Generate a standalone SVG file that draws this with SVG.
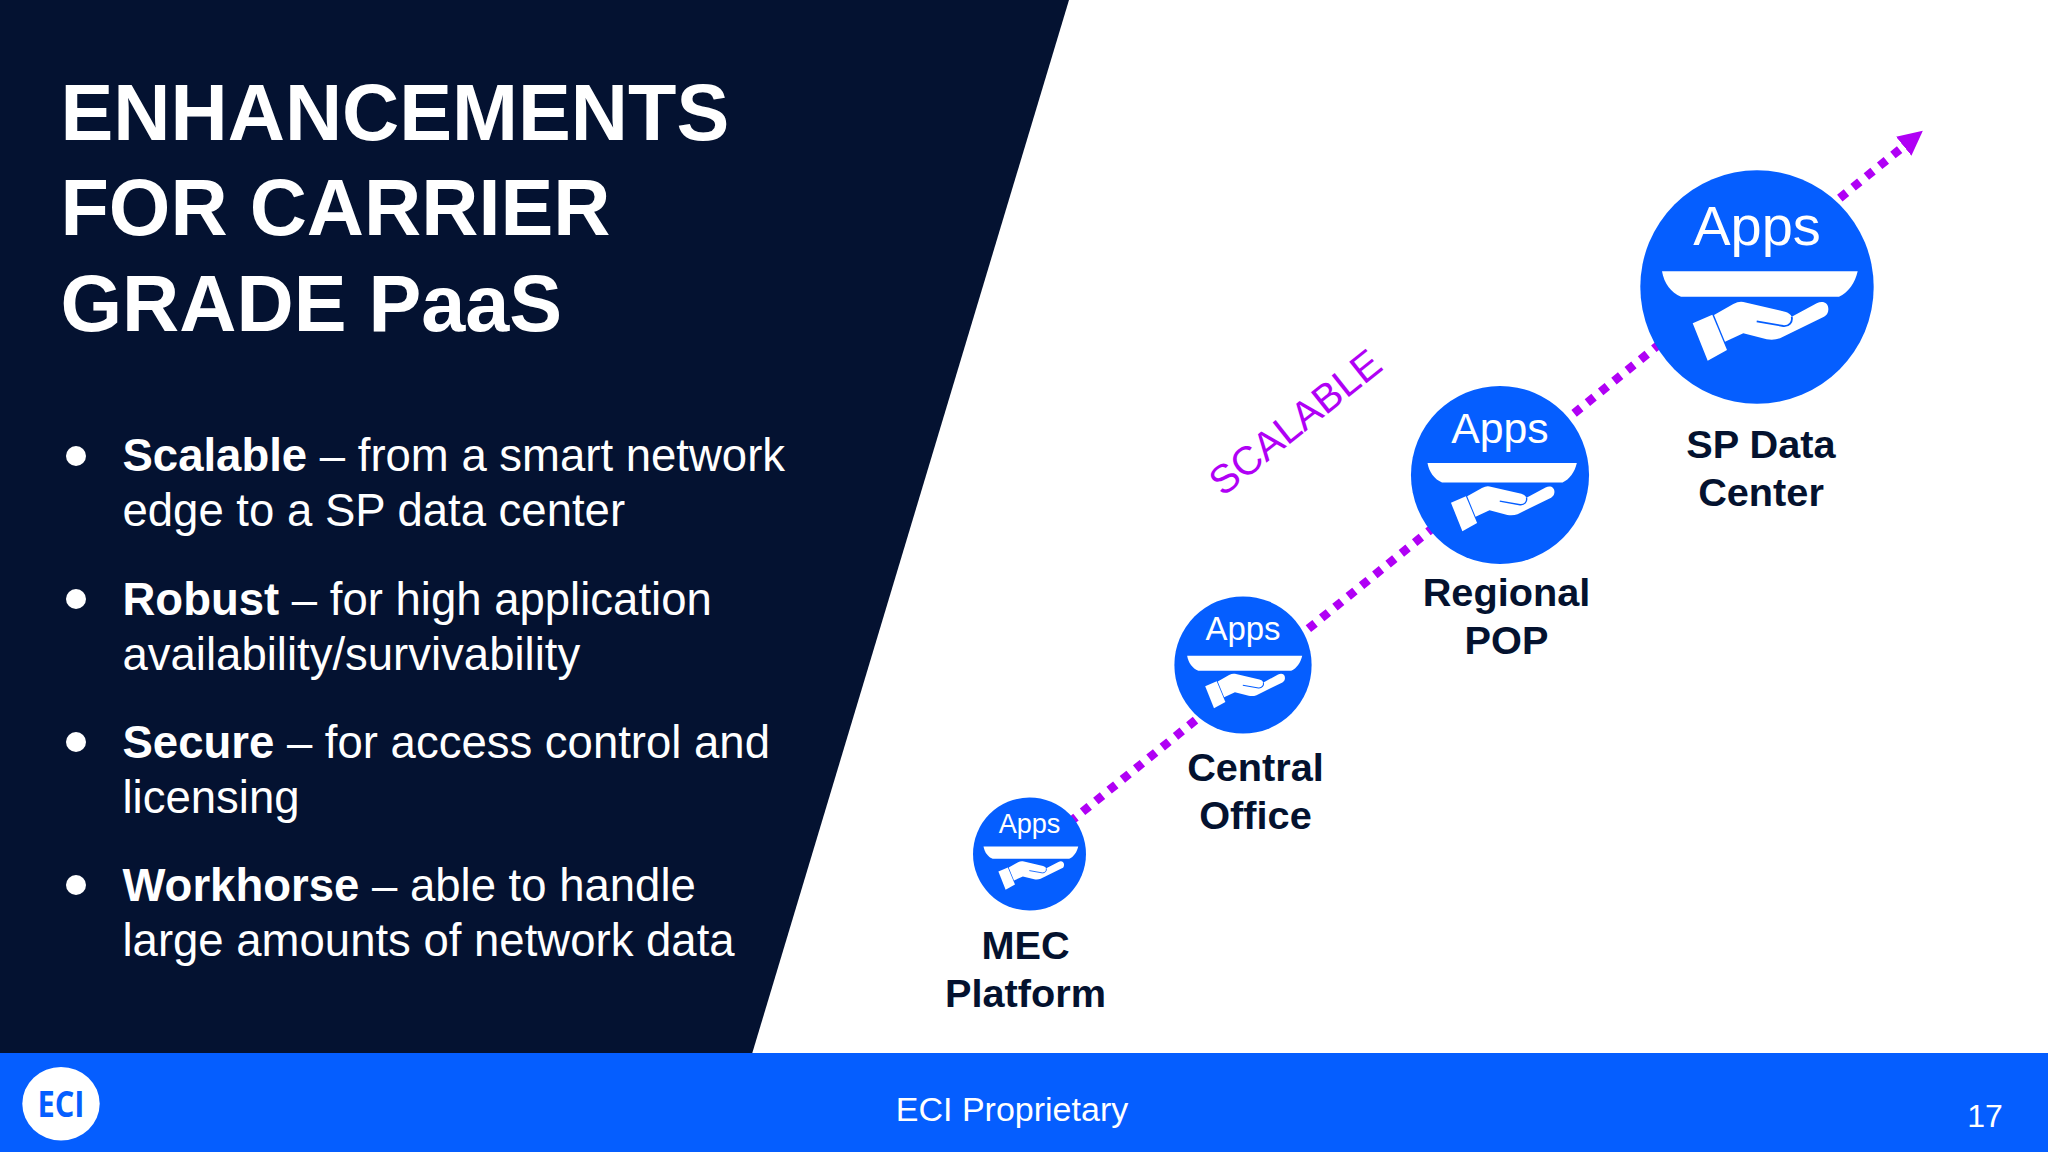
<svg xmlns="http://www.w3.org/2000/svg" xmlns:xlink="http://www.w3.org/1999/xlink" width="2048" height="1152" viewBox="0 0 2048 1152">
<style>
text{font-family:"Liberation Sans",Arial,sans-serif}
.title{font-size:79.2px;font-weight:700;fill:#fff}
.body{font-size:45.5px;fill:#fff}
.body tspan.b{font-weight:700}
.label{font-size:39.7px;font-weight:700;fill:#04122f;text-anchor:middle}
.foot{fill:#fff}
.disc{fill:#055eff}
.ico{fill:#fff}
.bul{fill:#fff}
</style>
<defs>
<marker id="arrow" markerUnits="userSpaceOnUse" markerWidth="30" markerHeight="30" refX="1" refY="15" orient="auto"><path d="M0,2.8 L24.6,15 L0,27.2 Z" fill="#b000f5"/></marker>
<g id="appIcon">
<circle class="disc" r="116.7"/>
<text x="0" y="-42.5" font-size="56" fill="#fff" text-anchor="middle">Apps</text>
<path class="ico" d="M-95,-15.7 H100.7 C98,-4 91,6 82,9.7 H-76 C-86,6 -93,-4 -95,-15.7 Z"/>
<path class="ico" d="M-64.3,36.3 L-44.7,27.7 L-30,63 L-49.3,73.7 Z"/>
<path class="ico" d="M-43,28 L-23.7,17 Q-18,14 -13.7,15 L28,24.7 Q33,26 34.7,29.7 L59.7,16.3 C66,13 72,16 71.3,23 C71,27 69,28.5 67,29.7 L23,51.3 Q17,53.5 9.7,52.3 L-13.7,46.3 L-32,54.7 Z"/>
<path d="M-0.3,34.3 L26.3,39 C32,39.5 36,35 34.7,29.7" fill="none" stroke="#055eff" stroke-width="1.8"/>
</g>
</defs>
<rect width="2048" height="1152" fill="#fff"/>
<polygon points="0,0 1069,0 752,1054 0,1054" fill="#041231"/>
<rect y="1053" width="2048" height="99" fill="#055eff"/>
<g id="title">
<text class="title" x="60.5" y="139.5">ENHANCEMENTS</text>
<text class="title" x="60.5" y="235">FOR CARRIER</text>
<text class="title" x="60.5" y="331">GRADE PaaS</text>
</g>
<g id="bullets">
<circle class="bul" cx="76" cy="456" r="10"/>
<text class="body" x="122.5" y="471"><tspan class="b">Scalable</tspan> – from a smart network</text>
<text class="body" x="122.5" y="526">edge to a SP data center</text>
<circle class="bul" cx="76" cy="599" r="10"/>
<text class="body" x="122.5" y="614.5"><tspan class="b">Robust</tspan> – for high application</text>
<text class="body" x="122.5" y="669.5">availability/survivability</text>
<circle class="bul" cx="76" cy="742" r="10"/>
<text class="body" x="122.5" y="758"><tspan class="b">Secure</tspan> – for access control and</text>
<text class="body" x="122.5" y="813">licensing</text>
<circle class="bul" cx="76" cy="885" r="10"/>
<text class="body" x="122.5" y="901"><tspan class="b">Workhorse</tspan> – able to handle</text>
<text class="body" x="122.5" y="956">large amounts of network data</text>
</g>
<g id="connectors">
<line x1="1029.4" y1="854.8" x2="1904.5" y2="145.6" stroke="#b000f5" stroke-width="8.6" stroke-dasharray="8.6 8.5" marker-end="url(#arrow)"/>
</g>
<text id="scalable" transform="translate(1295,422) rotate(-38.5)" x="0" y="14" font-size="40" fill="#b000f5" text-anchor="middle">SCALABLE</text>
<g id="node-mec">
<use xlink:href="#appIcon" href="#appIcon" transform="translate(1029.5,854) scale(0.484)"/>
<text class="label" x="1025.5" y="959">MEC</text>
<text class="label" x="1025.5" y="1007">Platform</text>
</g>
<g id="node-co">
<use xlink:href="#appIcon" href="#appIcon" transform="translate(1243,665) scale(0.588)"/>
<text class="label" x="1255.5" y="781">Central</text>
<text class="label" x="1255.5" y="829">Office</text>
</g>
<g id="node-pop">
<use xlink:href="#appIcon" href="#appIcon" transform="translate(1500,475) scale(0.763)"/>
<text class="label" x="1506.5" y="606">Regional</text>
<text class="label" x="1506.5" y="654">POP</text>
</g>
<g id="node-dc">
<use xlink:href="#appIcon" href="#appIcon" transform="translate(1757,287)"/>
<text class="label" x="1761" y="457.5">SP Data</text>
<text class="label" x="1761" y="506">Center</text>
</g>
<g id="footer">
<ellipse cx="61" cy="1103.7" rx="38.7" ry="36.8" fill="#fff"/>
<text x="61" y="1117" font-size="35" font-weight="700" fill="#055eff" text-anchor="middle" textLength="47" lengthAdjust="spacingAndGlyphs" style="font-family:'Open Sans','Liberation Sans',sans-serif">ECI</text>
<text class="foot" x="1012" y="1121" font-size="34" text-anchor="middle">ECI Proprietary</text>
<text class="foot" x="1985" y="1127" font-size="32" text-anchor="middle">17</text>
</g>
</svg>
